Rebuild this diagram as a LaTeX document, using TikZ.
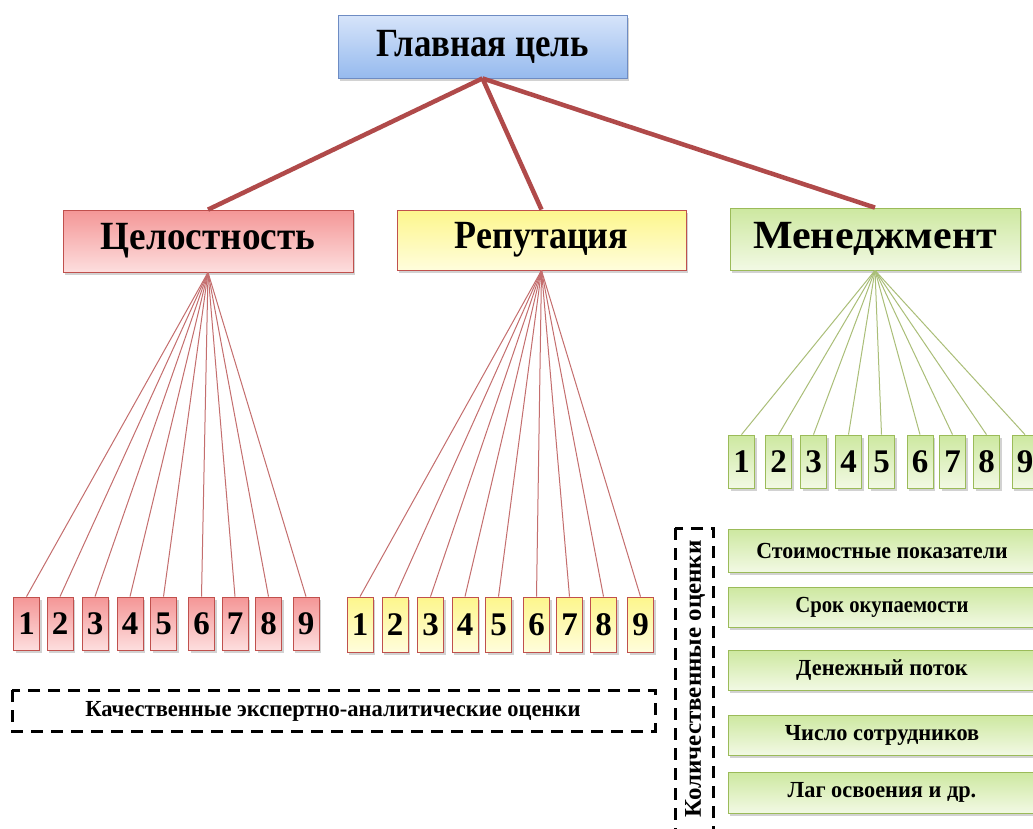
\documentclass[tikz,border=0pt]{standalone}
\usepackage{fontspec}
\setmainfont{Liberation Serif}
\usetikzlibrary{shadows}
\newcommand\hsqz[2]{\scalebox{#1}[1]{#2}}
\definecolor{conn}{RGB}{176,74,74}
\definecolor{redline}{RGB}{196,110,110}
\definecolor{greenline}{RGB}{170,190,120}
\definecolor{redborder}{RGB}{192,80,77}
\definecolor{greenborder}{RGB}{155,187,89}
\definecolor{blueborder}{RGB}{110,140,195}
\definecolor{bluetop}{RGB}{214,228,250}
\definecolor{bluebot}{RGB}{150,186,238}
\definecolor{redtop}{RGB}{244,150,150}
\definecolor{redbot}{RGB}{253,222,222}
\definecolor{yeltop}{RGB}{253,246,140}
\definecolor{yelbot}{RGB}{255,253,220}
\definecolor{grntop}{RGB}{205,232,160}
\definecolor{grnbot}{RGB}{242,249,228}
\tikzset{
  box/.style={draw, line width=0.8pt, inner sep=0pt,
    drop shadow={shadow xshift=2pt, shadow yshift=-2.5pt, opacity=0.35}},
  bluebox/.style={box, draw=blueborder, top color=bluetop, bottom color=bluebot},
  redbox/.style={box, draw=redborder, top color=redtop, bottom color=redbot},
  yelbox/.style={box, draw=redborder, top color=yeltop, bottom color=yelbot},
  grnbox/.style={box, draw=greenborder, top color=grntop, bottom color=grnbot},
  bigbox/.style={minimum width=290pt, minimum height=62pt,
    font=\fontsize{40}{42}\selectfont\bfseries},
  numbox/.style={minimum width=26pt, minimum height=53pt,
    font=\fontsize{33}{35}\selectfont\bfseries},
  metric/.style={grnbox, minimum width=308pt,
    font=\fontsize{23}{25}\selectfont\bfseries},
  mainline/.style={draw=conn, line width=4.5pt},
  redsub/.style={draw=redline, line width=1pt},
  grnsub/.style={draw=greenline, line width=1pt},
  dashbox/.style={draw=black, line width=3pt, dash pattern=on 12pt off 8pt},
}
\begin{document}
\begin{tikzpicture}[x=1pt,y=-1pt]
\useasboundingbox (0,0) rectangle (1033,828);
\clip (0,0) rectangle (1033,828);
\fill[white] (0,0) rectangle (1033,828);

% level 0 and 1
\node[bluebox, bigbox, minimum width=289pt, minimum height=63pt] (top) at (482.5,46.5) {\hsqz{0.87}{Главная цель}};
\node[redbox, bigbox] (cel) at (208,241) {\hsqz{0.93}{Целостность}};
\node[yelbox, bigbox, minimum width=289pt, minimum height=60pt] (rep) at (541.5,240) {\hsqz{0.9}{Репутация}};
\node[grnbox, bigbox] (men) at (875,239) {\hsqz{1.05}{Менеджмент}};

\draw[mainline] (top.south) -- (cel.north);
\draw[mainline] (top.south) -- (rep.north);
\draw[mainline] (top.south) -- (men.north);

% red numbers
\foreach \i/\x in {1/26.5,2/60,3/95,4/130,5/163.5,6/201.5,7/235,8/268.5,9/306}{
  \node[redbox, numbox] (r\i) at (\x,623.5) {\i};
  \draw[redsub] (cel.south) -- (r\i.north);
}
% yellow numbers
\foreach \i/\x in {1/360,2/395,3/430.5,4/465,5/498.5,6/536.5,7/569.5,8/603.5,9/640.5}{
  \node[yelbox, numbox, minimum height=55pt] (y\i) at (\x,624.5) {\i};
  \draw[redsub] (rep.south) -- (y\i.north);
}
% green numbers
\foreach \i/\x in {1/741.5,2/778.5,3/813.5,4/848.5,5/881.5,6/920,7/952.5,8/986.5,9/1025}{
  \node[grnbox, numbox] (g\i) at (\x,461.5) {\i};
  \draw[grnsub] (men.south) -- (g\i.north);
}

% metrics
\node[metric, minimum height=43pt] (m1) at (882,550.5) {\hsqz{0.95}{Стоимостные показатели}};
\node[metric, minimum height=40pt] (m2) at (882,607) {\hsqz{0.9}{Срок окупаемости}};
\node[metric, minimum height=40pt] (m3) at (882,670) {\hsqz{0.97}{Денежный поток}};
\node[metric, minimum height=40pt] (m4) at (882,735) {\hsqz{0.97}{Число сотрудников}};
\node[metric, minimum height=41pt] (m5) at (882,792.5) {\hsqz{0.97}{Лаг освоения и др.}};

% dashed groups
\draw[dashbox] (675,528) rectangle (713,834);
\node[rotate=90, font=\fontsize{24}{26}\selectfont\bfseries] (quant) at (695,679) {\hsqz{1.04}{Количественные оценки}};
\draw[dashbox] (12,690) rectangle (655,731);
\node[font=\fontsize{23}{25}\selectfont\bfseries] (qual) at (333,711) {\hsqz{0.98}{Качественные экспертно-аналитические оценки}};
\end{tikzpicture}
\end{document}
